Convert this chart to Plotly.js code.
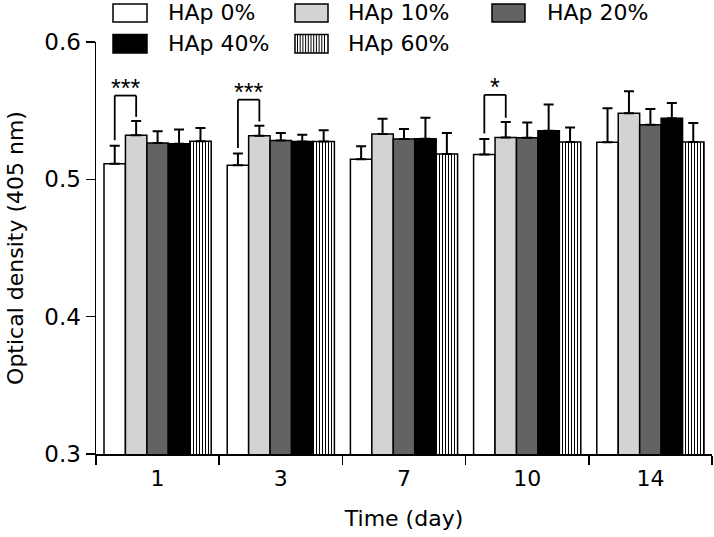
<!DOCTYPE html>
<html>
<head>
<meta charset="utf-8">
<script src="https://cdn.plot.ly/plotly-3.0.1.min.js"></script>
<style>html,body{margin:0;padding:0;background:#fff;}#chart{width:714px;height:537px;}</style>
</head>
<body>
<div id="chart"></div>
<script>
// ---- data ----
const days = ['1', '3', '7', '10', '14'];
const seriesNames = ['HAp 0%', 'HAp 10%', 'HAp 20%', 'HAp 40%', 'HAp 60%'];
const hap0  = [0.5114, 0.5103, 0.5146, 0.5180, 0.5270];
const hap10 = [0.5321, 0.5318, 0.5331, 0.5304, 0.5481];
const hap20 = [0.5265, 0.5282, 0.5294, 0.5302, 0.5398];
const hap40 = [0.5260, 0.5275, 0.5296, 0.5353, 0.5445];
const hap60 = [0.5277, 0.5275, 0.5185, 0.5272, 0.5272];
const err0  = [0.0131, 0.0085, 0.0095, 0.0114, 0.0248];
const err10 = [0.0104, 0.0073, 0.0110, 0.0114, 0.0160];
const err20 = [0.0085, 0.0056, 0.0073, 0.0111, 0.0114];
const err40 = [0.0102, 0.0049, 0.0153, 0.0191, 0.0110];
const err60 = [0.0097, 0.0083, 0.0153, 0.0105, 0.0139];
const yTickVals = [0.3, 0.4, 0.5, 0.6];
const yTickText = ['0.3', '0.4', '0.5', '0.6'];
const sigGroups = [0, 1, 3];
const sigLabels = ['***', '***', '*'];
const sigTops = [0.561, 0.558, 0.5615];

// ---- styles ----
const values = [hap0, hap10, hap20, hap40, hap60];
const errs = [err0, err10, err20, err40, err60];
const fills = ['#ffffff', '#d3d3d3', '#636363', '#000000', '#ffffff'];
const FONT = 'DejaVu Sans, Liberation Sans, Arial, sans-serif';
const SFONT = 'Liberation Sans, Arial, sans-serif';
const BARGAP = 0.13;

const traces = values.map((v, i) => {
  const t = {
    type: 'bar', name: seriesNames[i], x: days, y: v,
    showlegend: false,
    marker: {color: fills[i], line: {color: '#000', width: 1.5}},
    error_y: {type: 'data', symmetric: false, array: errs[i],
              arrayminus: errs[i].map(() => 0), color: '#000', thickness: 2, width: 5}
  };
  if (i === 4) {
    t.marker.pattern = {shape: '|', size: 3, solidity: 0.35, fgcolor: '#000', bgcolor: '#fff', fillmode: 'replace'};
  }
  return t;
});

// plot area in pixels (for legend placement)
const L = 96, R = 2, T = 42, B = 83, W = 714, H = 537;
const pw = W - L - R, ph = H - T - B;
const px = x => (x - L) / pw;
const py = y => (H - B - y) / ph;

const shapes = [];
const annotations = [];

// manual legend
const legCols = [[113, 147, 166], [295, 328, 346], [492, 525, 545]];
const legRows = [[4, 22], [34.5, 53]];
seriesNames.forEach((nm, i) => {
  const c = legCols[i % 3], r = legRows[Math.floor(i / 3)];
  shapes.push({type: 'rect', xref: 'paper', yref: 'paper',
    x0: px(c[0]), x1: px(c[1]), y0: py(r[1]), y1: py(r[0]),
    fillcolor: fills[i], line: {color: '#000', width: 1.5}});
  if (i === 4) {
    for (let xx = c[0] + 2.5; xx < c[1] - 1; xx += 2.7) {
      shapes.push({type: 'line', xref: 'paper', yref: 'paper',
        x0: px(xx), x1: px(xx), y0: py(r[1]), y1: py(r[0]),
        line: {color: '#000', width: 1}});
    }
  }
  annotations.push({xref: 'paper', yref: 'paper', x: px(c[2]), y: py((r[0] + r[1]) / 2),
    xanchor: 'left', yanchor: 'middle', text: nm, showarrow: false,
    font: {family: FONT, size: 22, color: '#000'}});
});

// significance brackets
const bw = (1 - BARGAP) / 5;
const barCenter = (g, i) => g - (1 - BARGAP) / 2 + (i + 0.5) * bw;
sigGroups.forEach((g, k) => {
  const xl = barCenter(g, 0), xr = barCenter(g, 1);
  const yl = hap0[g] + err0[g] + 0.004, yr = hap10[g] + err10[g] + 0.003, yt = sigTops[k];
  const ln = {color: '#000', width: 1.8};
  shapes.push({type: 'line', xref: 'x', yref: 'y', x0: xl, x1: xl, y0: yl, y1: yt, line: ln});
  shapes.push({type: 'line', xref: 'x', yref: 'y', x0: xl, x1: xr, y0: yt, y1: yt, line: ln});
  shapes.push({type: 'line', xref: 'x', yref: 'y', x0: xr, x1: xr, y0: yt, y1: yr, line: ln});
  annotations.push({xref: 'x', yref: 'y', x: (xl + xr) / 2, y: yt, yanchor: 'bottom',
    text: sigLabels[k], showarrow: false, yshift: -8,
    font: {family: SFONT, size: 25, color: '#000'}});
});

const layout = {
  width: W, height: H,
  margin: {l: L, r: R, t: T, b: B, pad: 0},
  paper_bgcolor: '#fff', plot_bgcolor: '#fff',
  font: {family: FONT, color: '#000'},
  barmode: 'group', bargap: BARGAP, bargroupgap: 0,
  showlegend: false,
  xaxis: {
    type: 'category', categoryorder: 'array', categoryarray: days,
    range: [-0.5, 4.5], tickson: 'boundaries',
    ticks: 'outside', ticklen: 9, tickwidth: 1.5, tickcolor: '#000',
    showline: true, linecolor: '#000', linewidth: 1.5,
    showgrid: false, zeroline: false, ticklabelstandoff: 4,
    tickfont: {family: FONT, size: 22, color: '#000'},
    title: {text: 'Time (day)', font: {family: FONT, size: 22, color: '#000'}, standoff: 20}
  },
  yaxis: {
    range: [0.3, 0.6], tickvals: yTickVals, ticktext: yTickText,
    ticks: 'outside', ticklen: 9, tickwidth: 1.5, tickcolor: '#000',
    showline: true, linecolor: '#000', linewidth: 1.5,
    showgrid: false, zeroline: false,
    tickfont: {family: FONT, size: 23, color: '#000'},
    title: {text: 'Optical density (405 nm)', font: {family: FONT, size: 22, color: '#000'}, standoff: 14}
  },
  shapes: shapes,
  annotations: annotations
};

Plotly.newPlot('chart', traces, layout, {displayModeBar: false, staticPlot: true});
</script>
</body>
</html>
